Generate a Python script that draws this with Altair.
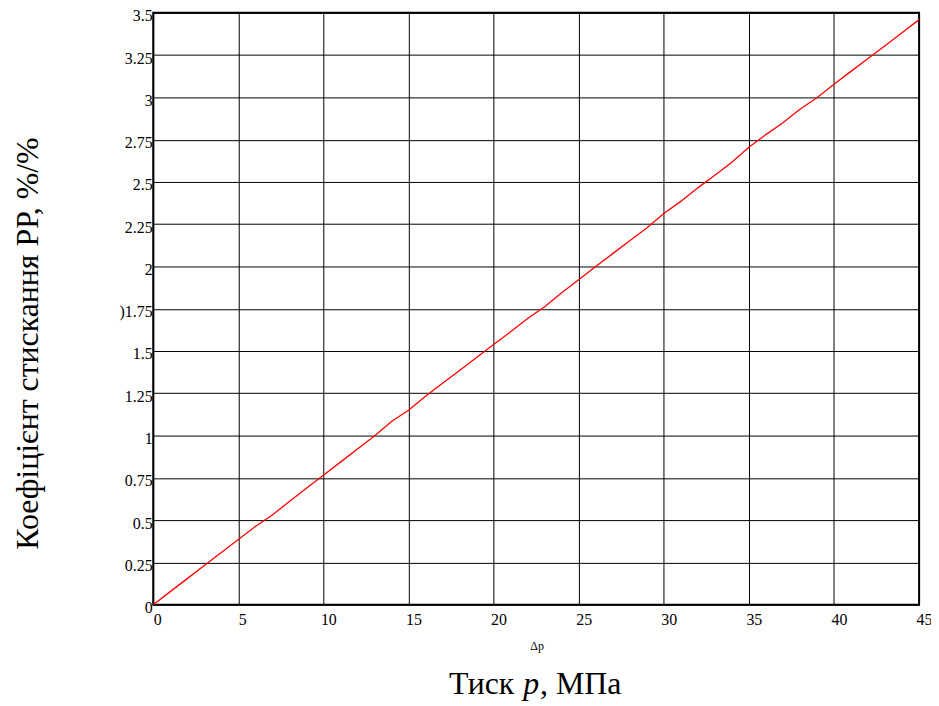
import altair as alt
import pandas as pd

# Data
pressure = list(range(0, 46))
coef = [0.000, 0.077, 0.154, 0.231, 0.308, 0.385, 0.462, 0.530, 0.610, 0.688,
        0.765, 0.843, 0.920, 0.998, 1.083, 1.150, 1.232, 1.310, 1.385, 1.462,
        1.538, 1.614, 1.692, 1.762, 1.845, 1.922, 2.000, 2.076, 2.152, 2.228,
        2.313, 2.385, 2.465, 2.540, 2.617, 2.705, 2.780, 2.850, 2.930, 2.998,
        3.078, 3.154, 3.230, 3.306, 3.382, 3.460]

x_ticks = [0, 5, 10, 15, 20, 25, 30, 35, 40, 45]
y_ticks = [0, 0.25, 0.5, 0.75, 1, 1.25, 1.5, 1.75, 2, 2.25, 2.5, 2.75, 3, 3.25, 3.5]

y_title = "Коефіцієнт стискання РР, %/%"
x_title_parts = ["Тиск", "p", ", МПа"]
x_var_label = "Δp"

FONT = "Liberation Serif, Times New Roman, serif"
W, H = 770, 595

df = pd.DataFrame({"p": pressure, "k": coef})

line = alt.Chart(df).mark_line(color="#ff0000", strokeWidth=1.3).encode(
    x=alt.X("p:Q",
            scale=alt.Scale(domain=[0, 45], nice=False, zero=False),
            axis=alt.Axis(values=x_ticks, title=None, grid=True, ticks=False,
                          domain=False, labelAlign="left", labelBaseline="top",
                          labelPadding=7, labelFontSize=16, labelFont=FONT,
                          labelColor="black",
                          labelOffset={"condition": {"test": "datum.value < 10", "value": 0}, "value": -3},
                          labelFlush=False,
                          gridColor="black", gridWidth=1, gridOpacity=1)),
    y=alt.Y("k:Q",
            scale=alt.Scale(domain=[0, 3.5], nice=False, zero=False),
            axis=alt.Axis(values=y_ticks, title=y_title, grid=True, ticks=False,
                          domain=False, labelAlign="right", labelBaseline="middle",
                          labelPadding=1, labelFontSize=16, labelFont=FONT,
                          labelColor="black", labelOffset=3, labelFlush=False,
                          labelExpr="datum.value == 1.75 ? ')1.75' : '' + datum.value",
                          gridColor="black", gridWidth=1, gridOpacity=1,
                          titleFont=FONT, titleFontSize=32, titleFontWeight="normal",
                          titleColor="black", titleX=-126, titleY=332,
                          titleAngle=270, titleAlign="center", titleBaseline="middle")),
)

txt_df = pd.DataFrame({"t": [0]})

dp = alt.Chart(txt_df).mark_text(text=x_var_label, font=FONT, fontSize=12,
                                  color="black", align="center", baseline="middle").encode(
    x=alt.value(386), y=alt.value(637))

t1 = alt.Chart(txt_df).mark_text(text=x_title_parts[0], font=FONT, fontSize=32,
                                  color="black", align="right", baseline="middle").encode(
    x=alt.value(363), y=alt.value(675))
t2 = alt.Chart(txt_df).mark_text(text=x_title_parts[1], font=FONT, fontSize=32, fontStyle="italic",
                                  color="black", align="left", baseline="middle").encode(
    x=alt.value(372), y=alt.value(675))
t3 = alt.Chart(txt_df).mark_text(text=x_title_parts[2], font=FONT, fontSize=32,
                                  color="black", align="left", baseline="middle").encode(
    x=alt.value(389), y=alt.value(675))

chart = alt.layer(line, dp, t1, t2, t3).properties(
    width=W, height=H,
    background="white",
    autosize=alt.AutoSizeParams(type="none"),
    padding={"left": 146, "top": 3, "right": 12, "bottom": 98},
).configure_view(
    stroke="black", strokeWidth=2
)

chart.save("out.html", embed_options={"renderer": "svg", "actions": False})
